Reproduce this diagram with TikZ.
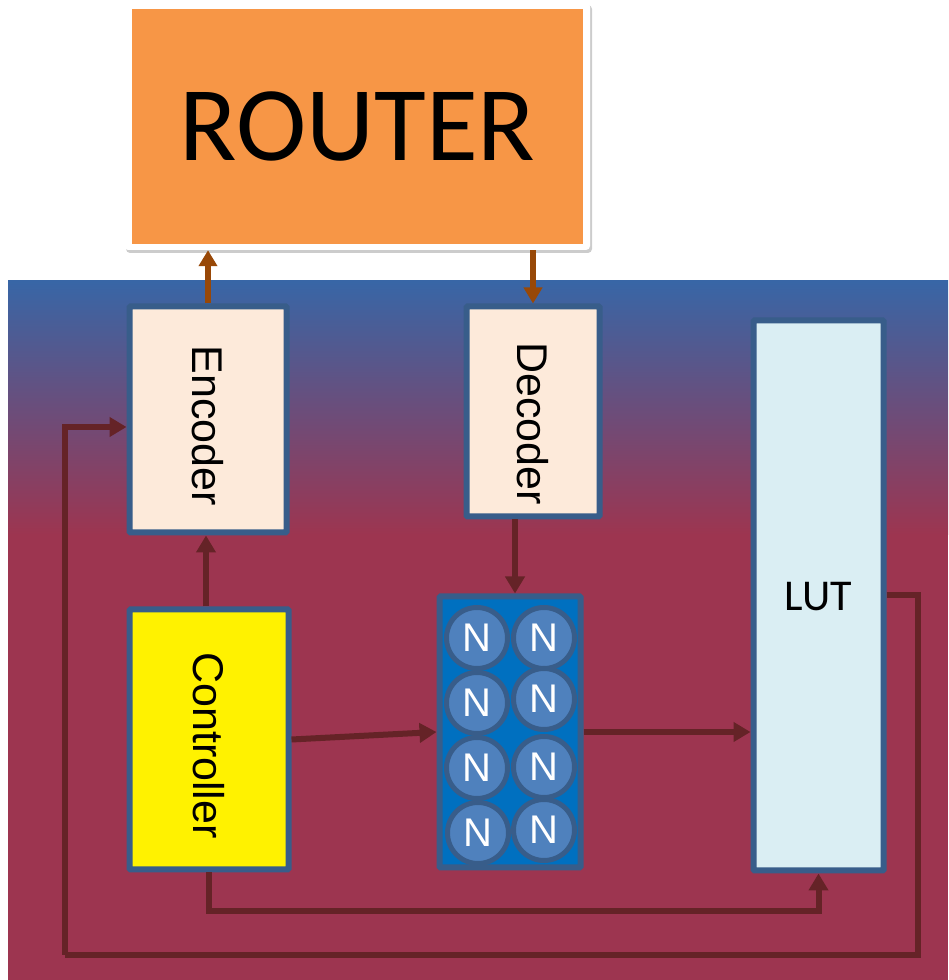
\documentclass[tikz,border=0pt]{standalone}
\usepackage{fontspec}
\setmainfont{Liberation Sans}
\newfontfamily\calfont{Carlito}
\usetikzlibrary{arrows.meta,shadows}
\definecolor{routerorange}{HTML}{F79646}
\definecolor{peach}{HTML}{FDEADA}
\definecolor{lutblue}{HTML}{DAEEF3}
\definecolor{boxborder}{HTML}{385D8A}
\definecolor{nnfill}{HTML}{0070C0}
\definecolor{circfill}{HTML}{4F81BD}
\definecolor{darkarrow}{HTML}{652327}
\definecolor{brownarrow}{HTML}{984807}
\definecolor{panelred}{HTML}{9D3550}
\definecolor{panelblue}{HTML}{3866A6}
\tikzset{
  blockbox/.style={draw=boxborder, line width=6pt, inner sep=0pt, rounded corners=1pt},
  neuron/.style={circle, draw=boxborder, line width=5pt, fill=circfill, minimum size=61pt, inner sep=0pt, text=white, font=\fontsize{40}{42}\selectfont},
  darrow/.style={draw=darkarrow, line width=6pt, -{Triangle[length=17pt,width=19pt]}},
  dline/.style={draw=darkarrow, line width=6pt},
  barrow/.style={draw=brownarrow, line width=6pt, -{Triangle[length=16pt,width=18pt]}},
}
\begin{document}
\begin{tikzpicture}[x=1pt,y=1pt]
\useasboundingbox (0,0) rectangle (948,980);
% panel
\fill[panelred] (8,0) rectangle (948,450);
\shade[top color=panelblue, bottom color=panelred] (8,445) rectangle (948,699);
% router
\node[fill=white, rounded corners=4pt, minimum width=466pt, minimum height=248pt, inner sep=0pt,
  drop shadow={shadow xshift=2pt, shadow yshift=-3pt, opacity=0.4}] (rframe) at (357,854) {};
\node[fill=routerorange, minimum width=451pt, minimum height=235pt, inner sep=0pt,
  font=\calfont\fontsize{106}{110}\selectfont] (router) at (357.5,853.5) {ROUTER};
% blocks
\node[blockbox, fill=peach, minimum width=157pt, minimum height=226pt] (enc) at (208,560.5) {};
\node[rotate=-90, font=\fontsize{43}{45}\selectfont] at ([yshift=-6pt]enc.center) {Encoder};
\node[blockbox, fill=peach, minimum width=133pt, minimum height=210pt] (dec) at (533,568.5) {};
\node[rotate=-90, font=\fontsize{43}{45}\selectfont] at ([yshift=-12pt]dec.center) {Decoder};
\node[blockbox, fill=lutblue, minimum width=130pt, minimum height=550pt] (lut) at (818.5,384.5) {};
\node[font=\calfont\fontsize{44}{46}\selectfont] at (818.5,383) {LUT};
\node[blockbox, fill=yellow, minimum width=159pt, minimum height=260pt] (ctrl) at (209,240.5) {};
\node[rotate=-90, font=\fontsize{43}{45}\selectfont] at ([yshift=-6pt]ctrl.center) {Controller};
\node[blockbox, fill=nnfill, minimum width=141pt, minimum height=271pt] (nn) at (510,248) {};
% neurons
\node[neuron] (n11) at (477,342) {N};
\node[neuron] (n12) at (544,342) {N};
\node[neuron] (n21) at (477,277) {N};
\node[neuron] (n22) at (544,281) {N};
\node[neuron] (n31) at (477,212) {N};
\node[neuron] (n32) at (544,213) {N};
\node[neuron] (n41) at (478,147) {N};
\node[neuron] (n42) at (544,150) {N};
% connectors to/from router
\draw[barrow] (enc.north) -- (enc.north |- rframe.south);
\draw[barrow] (rframe.south -| dec.north) -- (dec.north);
% internal connectors
\draw[darrow] ([xshift=-3pt]ctrl.north) -- ([xshift=-3pt]ctrl.north |- enc.south);
\draw[darrow] ([xshift=5pt]nn.north |- dec.south) -- ([xshift=5pt]nn.north);
\draw[darrow] (ctrl.east) -- (nn.west);
\draw[darrow] (nn.east) -- (nn.east -| lut.west);
\coordinate (b1) at (209,69);
\draw[darrow] (ctrl.south) -- (b1) -| (lut.south);
\coordinate (r1) at (918,25);
\coordinate (l1) at (65,25);
\draw[dline] (lut.east) -| (r1) -- (l1);
\draw[darrow] (l1) |- ([yshift=-7.5pt]enc.west);
\end{tikzpicture}
\end{document}
